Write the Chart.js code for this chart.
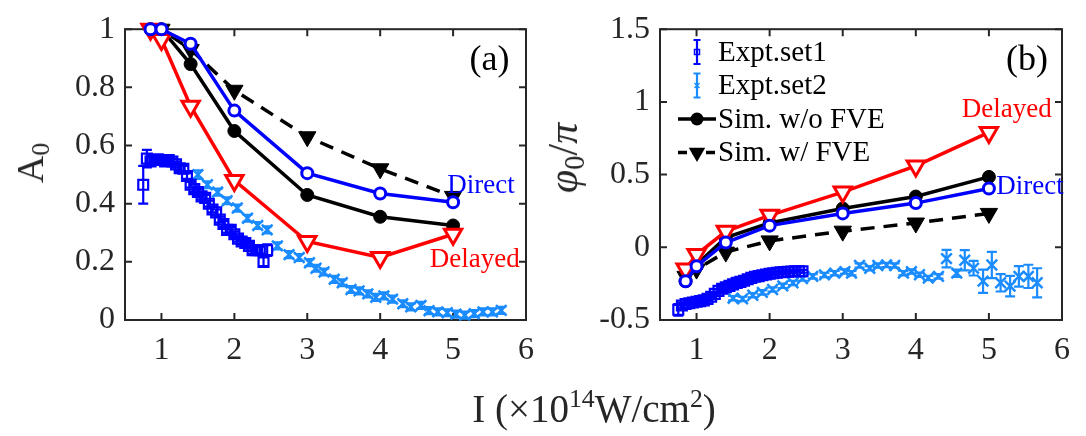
<!DOCTYPE html>
<html>
<head>
<meta charset="utf-8">
<script src="https://cdn.jsdelivr.net/npm/chart.js@4.4.1/dist/chart.umd.min.js"></script>
<style>
  body { margin: 0; background: #fff; width: 1086px; height: 436px; position: relative; overflow: hidden;
         font-family: "Liberation Serif", "DejaVu Serif", serif; color: #262626; }
  .box { position: absolute; top: 0; height: 436px; }
  #boxA { left: 0; width: 545px; }
  #boxB { left: 545px; width: 541px; }
  .ytitle { position: absolute; transform: translate(-50%, -50%) rotate(-90deg); white-space: nowrap; line-height: 1; }
  .xtitle { position: absolute; left: 594px; top: 389px; transform: translateX(-50%); white-space: nowrap; font-size: 39px; line-height: 1; }
  sup { font-size: 0.66em; vertical-align: 0.6em; line-height: 0; }
  sub { font-size: 0.68em; vertical-align: -0.25em; line-height: 0; }
</style>
</head>
<body>
<div class="box" id="boxA"><canvas id="chartA" width="545" height="436"></canvas></div>
<div class="box" id="boxB"><canvas id="chartB" width="541" height="436"></canvas></div>
<div class="ytitle" style="left:30px; top:163px; font-size:38px;">A<sub>0</sub></div>
<div class="ytitle" style="left:563px; top:158px; font-size:42px;"><i>φ</i><sub>0</sub>/<i>π</i></div>
<div class="xtitle">I (×10<sup>14</sup>W/cm<sup>2</sup>)</div>
<script>
// intensity axis, shared by both panels
const xTicks = [1, 2, 3, 4, 5, 6]
const ampTicks = [0, 0.2, 0.4, 0.6, 0.8, 1]
const phaseTicks = [-0.5, 0, 0.5, 1, 1.5]

// simulations
const simX = [0.85, 1, 1.4, 2, 3, 4, 5]
const ampNoFve = [1.0, 1.0, 0.88, 0.65, 0.43, 0.355, 0.325]
const ampFve = [1.0, 1.0, 0.93, 0.79, 0.63, 0.52, 0.425]
const ampDirect = [1.0, 1.0, 0.95, 0.72, 0.505, 0.435, 0.405]
const ampDelayed = [1.0, 0.965, 0.735, 0.48, 0.27, 0.215, 0.295]
const phaseNoFve = [-0.233, -0.12, 0.067, 0.167, 0.267, 0.349, 0.484]
const phaseFve = [-0.2, -0.15, -0.033, 0.044, 0.111, 0.167, 0.233]
const phaseDirect = [-0.233, -0.13, 0.033, 0.149, 0.233, 0.304, 0.404]
const phaseDelayed = [-0.15, -0.05, 0.11, 0.22, 0.38, 0.56, 0.79]

// experiment set 1
const set1X = [0.75, 0.8, 0.85, 0.9, 0.95, 1.0, 1.05, 1.1, 1.15, 1.2, 1.25, 1.3, 1.35, 1.4, 1.45, 1.5, 1.55, 1.6,
  1.65, 1.7, 1.75, 1.8, 1.85, 1.9, 1.95, 2.0, 2.05, 2.1, 2.15, 2.2, 2.25, 2.3, 2.35, 2.4, 2.45]
const set1Amp = [0.465, 0.555, 0.545, 0.55, 0.553, 0.55, 0.545, 0.55, 0.545, 0.535, 0.522, 0.52, 0.495, 0.465, 0.45,
  0.44, 0.425, 0.42, 0.40, 0.38, 0.37, 0.345, 0.33, 0.31, 0.31, 0.295, 0.28, 0.27, 0.265, 0.255, 0.24, 0.24, 0.24, 0.2, 0.24]
const set1AmpErr = [0.065, 0.03, 0.015, 0.01, 0.01, 0.01, 0.01, 0.01, 0.01, 0.01, 0.01, 0.01, 0.01, 0.01, 0.01, 0.01,
  0.01, 0.01, 0.01, 0.01, 0.01, 0.01, 0.01, 0.01, 0.01, 0.01, 0.01, 0.01, 0.01, 0.01, 0.012, 0.012, 0.012, 0.015, 0.02]
const set1Phase = [-0.43, -0.40, -0.39, -0.385, -0.38, -0.375, -0.37, -0.365, -0.355, -0.34, -0.32, -0.30, -0.285, -0.275,
  -0.265, -0.255, -0.245, -0.238, -0.23, -0.22, -0.21, -0.203, -0.198, -0.192, -0.187, -0.182, -0.178, -0.175, -0.172,
  -0.17, -0.168, -0.166, -0.165, -0.165, -0.165]
const set1PhaseErr = [0.04, 0.02, 0.01, 0.01, 0.01, 0.01, 0.01, 0.01, 0.01, 0.01, 0.01, 0.01, 0.01, 0.01, 0.01, 0.01,
  0.01, 0.01, 0.01, 0.01, 0.01, 0.01, 0.01, 0.01, 0.01, 0.01, 0.01, 0.01, 0.01, 0.01, 0.01, 0.01, 0.01, 0.01, 0.01]

// experiment set 2
const set2X = [1.5, 1.63, 1.77, 1.9, 2.04, 2.18, 2.32, 2.45, 2.59, 2.75, 2.89, 3.03, 3.12, 3.23, 3.37, 3.48, 3.6, 3.71,
  3.83, 3.94, 4.05, 4.17, 4.31, 4.42, 4.56, 4.67, 4.79, 4.92, 5.04, 5.16, 5.29, 5.41, 5.54, 5.66]
const set2Amp = [0.5, 0.465, 0.44, 0.41, 0.385, 0.35, 0.325, 0.31, 0.255, 0.225, 0.215, 0.197, 0.178, 0.165, 0.14, 0.128,
  0.105, 0.1, 0.09, 0.078, 0.083, 0.072, 0.056, 0.045, 0.05, 0.032, 0.028, 0.025, 0.02, 0.017, 0.022, 0.028, 0.028, 0.033]
const set2AmpErr = [0.015, 0.012, 0.012, 0.012, 0.012, 0.012, 0.012, 0.012, 0.012, 0.012, 0.012, 0.012, 0.012, 0.012,
  0.012, 0.012, 0.012, 0.012, 0.012, 0.012, 0.012, 0.012, 0.012, 0.012, 0.012, 0.012, 0.012, 0.012, 0.012, 0.012,
  0.012, 0.012, 0.012, 0.012]
const set2Phase = [-0.35, -0.355, -0.33, -0.31, -0.29, -0.265, -0.245, -0.215, -0.2, -0.19, -0.178, -0.167, -0.178,
  -0.125, -0.144, -0.125, -0.122, -0.125, -0.178, -0.167, -0.189, -0.211, -0.2, -0.078, -0.178, -0.089, -0.144, -0.233,
  -0.122, -0.244, -0.267, -0.2, -0.2, -0.244]
const set2PhaseErr = [0.015, 0.015, 0.015, 0.015, 0.015, 0.015, 0.015, 0.015, 0.015, 0.015, 0.015, 0.015, 0.015, 0.015,
  0.015, 0.015, 0.015, 0.015, 0.015, 0.015, 0.015, 0.015, 0.015, 0.06, 0.025, 0.07, 0.05, 0.08, 0.09, 0.06, 0.07, 0.07,
  0.08, 0.1]

const AXIS = '#262626'
const BLUE = '#0000ff'
const RED = '#ff0000'
const SKY = '#1a8cff'

const pts = (xs, ys) => xs.map((x, i) => ({ x: x, y: ys[i] }))

function simSets(noFve, fve, direct, delayed) {
    return [
        { data: pts(simX, direct), borderColor: BLUE, backgroundColor: '#fff', borderWidth: 3.5, showLine: true,
          pointStyle: 'circle', pointRadius: 5.5, pointBorderWidth: 3 },
        { data: pts(simX, delayed), borderColor: RED, backgroundColor: '#fff', borderWidth: 3.5, showLine: true,
          pointStyle: 'triangle', rotation: 180, pointRadius: 10, pointBorderWidth: 3 },
        { data: pts(simX, noFve), borderColor: '#000', backgroundColor: '#000', borderWidth: 3.5, showLine: true,
          pointStyle: 'circle', pointRadius: 6.5, pointBorderWidth: 1 },
        { data: pts(simX, fve), borderColor: '#000', backgroundColor: '#000', borderWidth: 3.5, borderDash: [14, 9],
          showLine: true, pointStyle: 'triangle', rotation: 180, pointRadius: 10, pointBorderWidth: 1 },
    ]
}

function exptSets(y1, e1, y2, e2) {
    return [
        { data: pts(set1X, y1), errors: e1, cap: 5, borderColor: BLUE, backgroundColor: 'rgba(0,0,0,0)', showLine: false,
          pointStyle: 'rect', pointRadius: 7, pointBorderWidth: 2.2 },
        { data: pts(set2X, y2), errors: e2, cap: 5, borderColor: SKY, backgroundColor: SKY, showLine: false,
          pointStyle: 'crossRot', pointRadius: 7.5, pointBorderWidth: 2.5 },
    ]
}

// error bars drawn through the scales
const errorBars = {
    id: 'errorBars',
    beforeDatasetsDraw(chart) {
        const ctx = chart.ctx, xs = chart.scales.x, ys = chart.scales.y
        chart.data.datasets.forEach(ds => {
            if (!ds.errors) return
            ctx.save()
            ctx.strokeStyle = ds.borderColor
            ctx.lineWidth = 2.2
            ds.data.forEach((p, i) => {
                const e = ds.errors[i]
                const px = xs.getPixelForValue(p.x)
                const lo = ys.getPixelForValue(p.y - e), hi = ys.getPixelForValue(p.y + e)
                ctx.beginPath()
                ctx.moveTo(px, lo); ctx.lineTo(px, hi)
                ctx.moveTo(px - ds.cap, lo); ctx.lineTo(px + ds.cap, lo)
                ctx.moveTo(px - ds.cap, hi); ctx.lineTo(px + ds.cap, hi)
                ctx.stroke()
            })
            ctx.restore()
        })
    }
}

// matlab style box with inward ticks
const frame = {
    id: 'frame',
    beforeDatasetsDraw(chart) {
        const ctx = chart.ctx, a = chart.chartArea
        const tl = 7
        ctx.save()
        ctx.strokeStyle = AXIS
        ctx.lineWidth = 2
        ctx.beginPath()
        chart.scales.x.ticks.forEach(t => {
            const px = chart.scales.x.getPixelForValue(t.value)
            ctx.moveTo(px, a.bottom); ctx.lineTo(px, a.bottom - tl)
            ctx.moveTo(px, a.top); ctx.lineTo(px, a.top + tl)
        })
        chart.scales.y.ticks.forEach(t => {
            const py = chart.scales.y.getPixelForValue(t.value)
            ctx.moveTo(a.left, py); ctx.lineTo(a.left + tl, py)
            ctx.moveTo(a.right, py); ctx.lineTo(a.right - tl, py)
        })
        ctx.stroke()
        ctx.strokeRect(a.left, a.top, a.right - a.left, a.bottom - a.top)
        ctx.restore()
    }
}

const notes = {
    id: 'notes',
    afterDatasetsDraw(chart, args, opts) {
        const ctx = chart.ctx
        ;(opts.items || []).forEach(n => {
            ctx.save()
            ctx.fillStyle = n.color
            ctx.font = n.size + 'px "Liberation Serif", serif'
            ctx.textAlign = n.align
            ctx.textBaseline = 'middle'
            ctx.fillText(n.text, chart.scales.x.getPixelForValue(n.x), chart.scales.y.getPixelForValue(n.y))
            ctx.restore()
        })
    }
}

function marker(ctx, kind, x, y, r) {
    ctx.beginPath()
    if (kind === 'circle') {
        ctx.arc(x, y, r, 0, Math.PI * 2)
    } else if (kind === 'tri') {
        for (let k = 0; k < 3; k++) {
            const ang = Math.PI + k * 2 * Math.PI / 3
            const vx = x + Math.sin(ang) * r, vy = y - Math.cos(ang) * r
            k === 0 ? ctx.moveTo(vx, vy) : ctx.lineTo(vx, vy)
        }
        ctx.closePath()
    } else if (kind === 'rect') {
        ctx.rect(x - r, y - r, 2 * r, 2 * r)
    } else if (kind === 'cross') {
        ctx.moveTo(x - r, y - r); ctx.lineTo(x + r, y + r)
        ctx.moveTo(x - r, y + r); ctx.lineTo(x + r, y - r)
    }
}

const legendRows = [
    { label: 'Expt.set1', type: 'err', color: BLUE, kind: 'rect' },
    { label: 'Expt.set2', type: 'err', color: SKY, kind: 'cross' },
    { label: 'Sim. w/o FVE', type: 'line', color: '#000', kind: 'circle' },
    { label: 'Sim. w/ FVE', type: 'dash', color: '#000', kind: 'tri' },
]

const phaseLegend = {
    id: 'phaseLegend',
    afterDatasetsDraw(chart) {
        const ctx = chart.ctx
        const x0 = 152, tx = 173, y0 = 52, dy = 33.5
        legendRows.forEach((row, i) => {
            const y = y0 + i * dy
            ctx.save()
            ctx.strokeStyle = row.color
            ctx.fillStyle = row.color
            if (row.type === 'err') {
                ctx.lineWidth = 2.2
                ctx.beginPath()
                ctx.moveTo(x0, y - 12); ctx.lineTo(x0, y + 12)
                ctx.moveTo(x0 - 3.5, y - 12); ctx.lineTo(x0 + 3.5, y - 12)
                ctx.moveTo(x0 - 3.5, y + 12); ctx.lineTo(x0 + 3.5, y + 12)
                ctx.stroke()
                ctx.lineWidth = 1.5
                marker(ctx, row.kind, x0, y, 2.5)
                ctx.stroke()
            } else {
                ctx.lineWidth = 3.5
                ctx.beginPath()
                if (row.type === 'dash') ctx.setLineDash([9, 5])
                ctx.moveTo(x0 - 19, y); ctx.lineTo(x0 + 19, y)
                ctx.stroke()
                ctx.setLineDash([])
                marker(ctx, row.kind, x0, y, row.kind === 'circle' ? 6.5 : 9.5)
                ctx.fill()
            }
            ctx.fillStyle = '#000'
            ctx.font = '29px "Liberation Serif", serif'
            ctx.textAlign = 'left'
            ctx.textBaseline = 'middle'
            ctx.fillText(row.label, tx, y + 1)
            ctx.restore()
        })
    }
}

function makeOptions(yMin, yMax, yTicks, yWidth, padRight, noteItems) {
    const tickFont = { family: '"Liberation Serif", serif', size: 32 }
    return {
        responsive: false,
        animation: false,
        layout: { padding: { left: 0, right: padRight, top: 21, bottom: 0 } },
        plugins: { legend: { display: false }, tooltip: { enabled: false }, notes: { items: noteItems } },
        scales: {
            x: {
                type: 'linear', min: 0.5, max: 6,
                grid: { display: false, drawTicks: false }, border: { display: false },
                afterBuildTicks: s => { s.ticks = xTicks.map(v => ({ value: v })) },
                afterFit: s => { s.height = 116 },
                ticks: { color: AXIS, font: tickFont, padding: 11, maxRotation: 0, callback: v => String(v) }
            },
            y: {
                type: 'linear', min: yMin, max: yMax,
                grid: { display: false, drawTicks: false }, border: { display: false },
                afterBuildTicks: s => { s.ticks = yTicks.map(v => ({ value: v })) },
                afterFit: s => { s.width = yWidth },
                ticks: { color: AXIS, font: tickFont, padding: 10, callback: v => String(v) }
            }
        }
    }
}

const datasetDefaults = ds => Object.assign({ clip: false, tension: 0, fill: false }, ds)

new Chart(document.getElementById('chartA').getContext('2d'), {
    type: 'scatter',
    data: { datasets: simSets(ampNoFve, ampFve, ampDirect, ampDelayed)
        .concat(exptSets(set1Amp, set1AmpErr, set2Amp, set2AmpErr)).map(datasetDefaults) },
    options: makeOptions(0, 1, ampTicks, 125, 18, [
        { text: '(a)', x: 5.5, y: 0.893, color: '#000', size: 36, align: 'center' },
        { text: 'Direct', x: 4.92, y: 0.46, color: BLUE, size: 27, align: 'left' },
        { text: 'Delayed', x: 4.68, y: 0.205, color: RED, size: 27, align: 'left' },
    ]),
    plugins: [frame, errorBars, notes]
})

new Chart(document.getElementById('chartB').getContext('2d'), {
    type: 'scatter',
    data: { datasets: simSets(phaseNoFve, phaseFve, phaseDirect, phaseDelayed)
        .concat(exptSets(set1Phase, set1PhaseErr, set2Phase, set2PhaseErr)).map(datasetDefaults) },
    options: makeOptions(-0.5, 1.5, phaseTicks, 115, 24, [
        { text: '(b)', x: 5.52, y: 1.287, color: '#000', size: 36, align: 'center' },
        { text: 'Delayed', x: 4.63, y: 0.947, color: RED, size: 27, align: 'left' },
        { text: 'Direct', x: 5.1, y: 0.413, color: BLUE, size: 27, align: 'left' },
    ]),
    plugins: [frame, errorBars, notes, phaseLegend]
})
</script>
</body>
</html>
